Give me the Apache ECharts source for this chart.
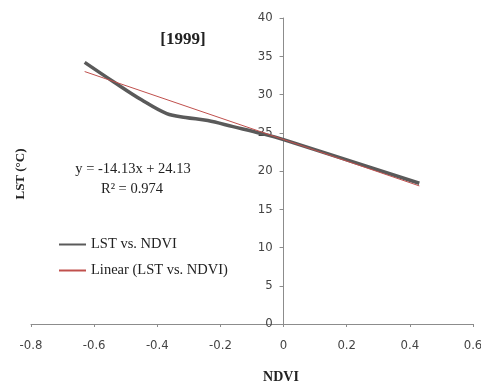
<!DOCTYPE html>
<html>
<head>
<meta charset="utf-8">
<script src="https://cdn.jsdelivr.net/npm/echarts@6/dist/echarts.min.js"></script>
<style>html,body{margin:0;padding:0;background:#fff}#c{width:481px;height:384px}</style>
</head>
<body>
<div id="c"></div>
<script>
var ndvi = [-0.63, -0.54, -0.45, -0.37, -0.31, -0.24, -0.16, -0.07, 0, 0.43];
var lst = [34.2, 31.7, 29.3, 27.5, 27.0, 26.6, 25.8, 24.9, 24.1, 18.4];
var trendX = [-0.63, 0.43];
var trendY = [33.0, 18.05];
var titleText = '[1999]';
var eqText = 'y = -14.13x + 24.13';
var r2Text = 'R² = 0.974';
var xName = 'NDVI';
var yName = 'LST (°C)';
var xTicks = {min: -0.8, max: 0.6, interval: 0.2};
var yTicks = {min: 0, max: 40, interval: 5};

var FONT = '"Liberation Serif", "Times New Roman", serif';
var TICKFONT = '"Liberation Sans Narrow", "Arial Narrow", "DejaVu Sans Condensed", sans-serif';
function pairs(xs, ys){ return xs.map(function(x,i){ return [x, ys[i]]; }); }

var W = 481, gridL = 31, gridR = 8;
var plotW = W - gridL - gridR;
var yAxisOffset = -plotW * (0 - xTicks.min) / (xTicks.max - xTicks.min);

var chart = echarts.init(document.getElementById('c'), null, {renderer:'canvas'});
chart.setOption({
  animation: false,
  backgroundColor: '#fff',
  grid: {left: gridL, right: gridR, top: 18, bottom: 60, containLabel: false, outerBoundsMode: 'none'},
  xAxis: {
    type: 'value', min: xTicks.min, max: xTicks.max, interval: xTicks.interval,
    axisLine: {onZero: false, lineStyle: {color: '#8c8c8c', width: 1}},
    axisTick: {show: true, inside: false, length: 3, lineStyle: {color: '#8c8c8c'}},
    axisLabel: {fontFamily: TICKFONT, fontSize: 13, color: '#444', margin: 15,
      formatter: function(v){ return Math.abs(v) < 1e-9 ? '0' : String(Math.round(v*10)/10); }},
    splitLine: {show: false}
  },
  yAxis: {
    type: 'value', min: yTicks.min, max: yTicks.max, interval: yTicks.interval,
    position: 'left', offset: yAxisOffset,
    axisLine: {show: true, onZero: false, lineStyle: {color: '#8c8c8c', width: 1}},
    axisTick: {show: true, length: 4, lineStyle: {color: '#8c8c8c'}},
    axisLabel: {fontFamily: TICKFONT, fontSize: 13, color: '#444', margin: 11},
    splitLine: {show: false}
  },
  legend: {
    orient: 'vertical', left: 58, top: 237, padding: 0, itemWidth: 27, itemHeight: 14, itemGap: 11,
    textStyle: {fontFamily: FONT, fontSize: 14.5, color: '#222'},
    data: [
      {name: 'LST vs. NDVI', itemStyle: {opacity: 0}},
      {name: 'Linear (LST vs. NDVI)', itemStyle: {opacity: 0}}
    ]
  },
  graphic: [
    {type: 'text', x: 183, y: 40, style: {text: titleText, font: 'bold 17px ' + FONT, fill: '#222', textAlign: 'center', textVerticalAlign: 'middle'}},
    {type: 'text', x: 133, y: 169, style: {text: eqText, font: '14.5px ' + FONT, fill: '#222', textAlign: 'center', textVerticalAlign: 'middle'}},
    {type: 'text', x: 132, y: 189, style: {text: r2Text, font: '14.5px ' + FONT, fill: '#222', textAlign: 'center', textVerticalAlign: 'middle'}},
    {type: 'text', x: 21, y: 174, rotation: Math.PI/2, style: {text: yName, font: 'bold 13px ' + FONT, fill: '#222', textAlign: 'center', textVerticalAlign: 'middle'}},
    {type: 'text', x: 281, y: 377, style: {text: xName, font: 'bold 14px ' + FONT, fill: '#222', textAlign: 'center', textVerticalAlign: 'middle'}}
  ],
  series: [
    {name: 'LST vs. NDVI', type: 'line', data: pairs(ndvi, lst), smooth: 0.35, symbol: 'none',
      lineStyle: {color: '#5a5a5a', width: 3.5}, itemStyle: {color: '#5a5a5a'}, z: 2},
    {name: 'Linear (LST vs. NDVI)', type: 'line', data: pairs(trendX, trendY), symbol: 'none',
      lineStyle: {color: '#c0504d', width: 1}, itemStyle: {color: '#c0504d'}, z: 3}
  ]
});
</script>
</body>
</html>
